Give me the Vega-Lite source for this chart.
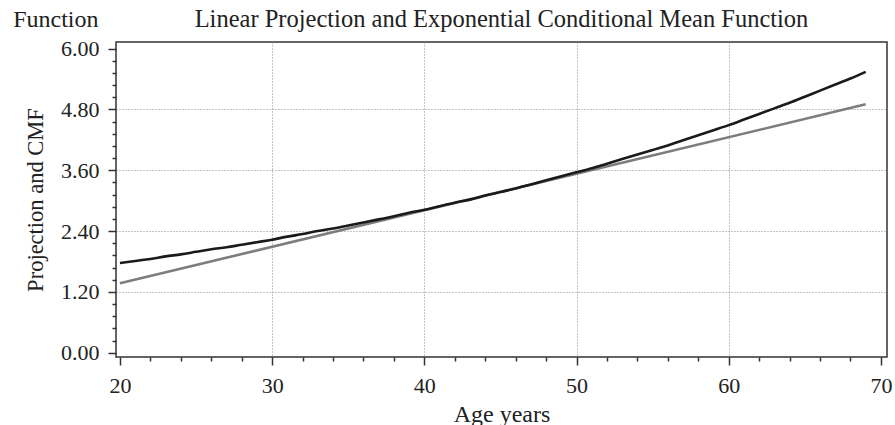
{
  "$schema": "https://vega.github.io/schema/vega-lite/v6.json",
  "width": 771,
  "height": 315,
  "autosize": {"type": "none"},
  "padding": {"left": 116, "top": 42, "right": 8, "bottom": 68},
  "background": "white",
  "config": {
    "font": "Liberation Serif",
    "view": {"stroke": "#333333", "strokeWidth": 1.5},
    "axis": {
      "labelFont": "Liberation Serif",
      "titleFont": "Liberation Serif",
      "labelFontSize": 22,
      "titleFontSize": 24,
      "titleFontWeight": "normal",
      "labelColor": "#222222",
      "titleColor": "#222222",
      "tickColor": "#333333",
      "tickWidth": 1.5,
      "domain": false,
      "labelOverlap": false,
      "labelBound": false,
      "labelFlush": false,
      "gridColor": "#8a8a8a",
      "gridWidth": 1,
      "gridDash": [1, 2]
    }
  },
  "datasets": {
    "projection": [
      {"age": 20, "value": 1.37},
      {"age": 69, "value": 4.90}
    ],
    "cmf": [
      {"age": 20, "value": 1.77}, {"age": 21, "value": 1.81}, {"age": 22, "value": 1.85},
      {"age": 23, "value": 1.90}, {"age": 24, "value": 1.94}, {"age": 25, "value": 1.99},
      {"age": 26, "value": 2.04}, {"age": 27, "value": 2.08}, {"age": 28, "value": 2.13},
      {"age": 29, "value": 2.18}, {"age": 30, "value": 2.23}, {"age": 31, "value": 2.29},
      {"age": 32, "value": 2.34}, {"age": 33, "value": 2.40}, {"age": 34, "value": 2.45},
      {"age": 35, "value": 2.51}, {"age": 36, "value": 2.57}, {"age": 37, "value": 2.63},
      {"age": 38, "value": 2.69}, {"age": 39, "value": 2.76}, {"age": 40, "value": 2.82},
      {"age": 41, "value": 2.89}, {"age": 42, "value": 2.96}, {"age": 43, "value": 3.02},
      {"age": 44, "value": 3.10}, {"age": 45, "value": 3.17}, {"age": 46, "value": 3.24},
      {"age": 47, "value": 3.32}, {"age": 48, "value": 3.40}, {"age": 49, "value": 3.48},
      {"age": 50, "value": 3.56}, {"age": 51, "value": 3.64}, {"age": 52, "value": 3.73},
      {"age": 53, "value": 3.82}, {"age": 54, "value": 3.91}, {"age": 55, "value": 4.00},
      {"age": 56, "value": 4.09}, {"age": 57, "value": 4.19}, {"age": 58, "value": 4.29},
      {"age": 59, "value": 4.39}, {"age": 60, "value": 4.49}, {"age": 61, "value": 4.60},
      {"age": 62, "value": 4.71}, {"age": 63, "value": 4.82}, {"age": 64, "value": 4.93},
      {"age": 65, "value": 5.05}, {"age": 66, "value": 5.17}, {"age": 67, "value": 5.29},
      {"age": 68, "value": 5.41}, {"age": 69, "value": 5.54}
    ]
  },
  "layer": [
    {
      "data": {"name": "projection"},
      "mark": {"type": "line", "color": "#7d7d7d", "strokeWidth": 2.6},
      "encoding": {
        "x": {
          "field": "age",
          "type": "quantitative",
          "scale": {"domain": [19.74, 70.4], "nice": false, "zero": false},
          "axis": {
            "orient": "bottom",
            "title": "Age years",
            "titlePadding": 6,
            "values": [20, 22, 24, 26, 28, 30, 32, 34, 36, 38, 40, 42, 44, 46, 48, 50, 52, 54, 56, 58, 60, 62, 64, 66, 68, 70],
            "labelExpr": "datum.value % 10 == 0 ? format(datum.value, 'd') : ''",
            "tickSize": {"condition": {"test": "datum.value % 10 == 0", "value": 8}, "value": 4},
            "labelPadding": 10,
            "grid": true,
            "gridOpacity": {"condition": {"test": "datum.value % 10 == 0 && datum.value > 20 && datum.value < 70", "value": 1}, "value": 0}
          }
        },
        "y": {
          "field": "value",
          "type": "quantitative",
          "scale": {"domain": [-0.085, 6.13], "nice": false, "zero": false},
          "axis": {
            "orient": "left",
            "title": "Projection and CMF",
            "titleFontSize": 22.5,
            "titlePadding": 13,
            "values": [0, 0.24, 0.48, 0.72, 0.96, 1.2, 1.44, 1.68, 1.92, 2.16, 2.4, 2.64, 2.88, 3.12, 3.36, 3.6, 3.84, 4.08, 4.32, 4.56, 4.8, 5.04, 5.28, 5.52, 5.76, 6.0],
            "labelExpr": "abs(datum.value / 1.2 - round(datum.value / 1.2)) < 0.001 ? format(datum.value, '.2f') : ''",
            "tickSize": {"condition": {"test": "abs(datum.value / 1.2 - round(datum.value / 1.2)) < 0.001", "value": 8}, "value": 4},
            "labelPadding": 9,
            "grid": true,
            "gridOpacity": {"condition": {"test": "abs(datum.value / 1.2 - round(datum.value / 1.2)) < 0.001 && datum.value > 0.1 && datum.value < 5.9", "value": 1}, "value": 0}
          }
        }
      }
    },
    {
      "data": {"name": "cmf"},
      "mark": {"type": "line", "color": "#1a1a1a", "strokeWidth": 2.6, "interpolate": "monotone"},
      "encoding": {
        "x": {
          "field": "age",
          "type": "quantitative",
          "axis": {
            "orient": "top",
            "title": "Function",
            "labels": false,
            "ticks": false,
            "domain": false,
            "grid": false,
            "titleAnchor": "start",
            "titleAlign": "right",
            "titleBaseline": "alphabetic",
            "titleX": -18,
            "titleY": -16
          }
        },
        "y": {"field": "value", "type": "quantitative", "axis": null}
      }
    },
    {
      "data": {"name": "cmf"},
      "mark": {"type": "line", "opacity": 0},
      "encoding": {
        "x": {
          "field": "age",
          "type": "quantitative",
          "axis": {
            "orient": "top",
            "title": "Linear Projection and Exponential Conditional Mean Function",
            "titleFontSize": 24.5,
            "labels": false,
            "ticks": false,
            "domain": false,
            "grid": false,
            "titleAlign": "center",
            "titleBaseline": "alphabetic",
            "titleX": 385,
            "titleY": -16
          }
        },
        "y": {"field": "value", "type": "quantitative", "axis": null}
      }
    }
  ],
  "resolve": {"axis": {"x": "independent", "y": "independent"}}
}
